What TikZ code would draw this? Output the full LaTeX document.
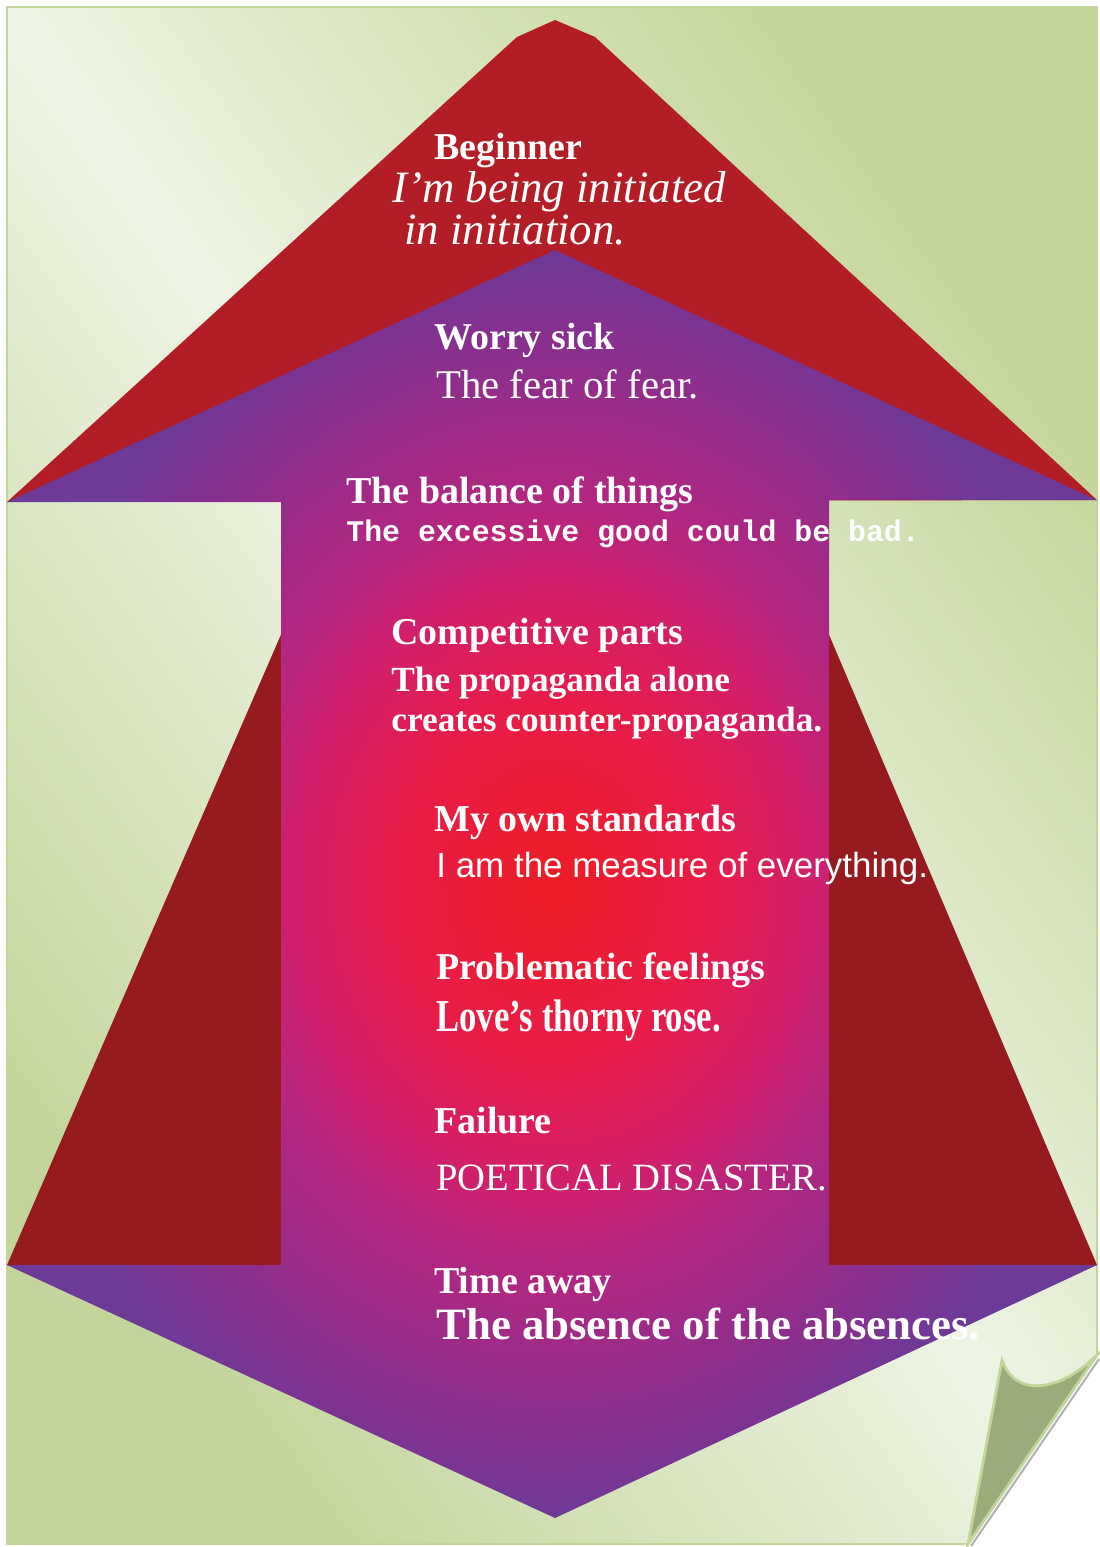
\documentclass[tikz,border=0pt]{standalone}
\usepackage{fontspec}
\setmainfont{Liberation Serif}
\newfontfamily\monofont{Liberation Mono}
\newfontfamily\arialfont{Liberation Sans}
\newfontfamily\narrowfont[FakeStretch=0.76]{Liberation Serif}
\usetikzlibrary{positioning}

\definecolor{pagelight}{HTML}{EEF4E4}
\definecolor{pagedark}{HTML}{C3D59A}
\definecolor{pageedge}{HTML}{C2D69A}
\definecolor{flapgreen}{HTML}{9BAB7A}
\definecolor{topred}{HTML}{B31D25}
\definecolor{sidered}{HTML}{971A1F}
\definecolor{glow0}{HTML}{ED1C24}
\definecolor{glow1}{HTML}{E91C48}
\definecolor{glow2}{HTML}{D01F6C}
\definecolor{glow3}{HTML}{B42680}
\definecolor{glow4}{HTML}{84308F}
\definecolor{glow5}{HTML}{6E3A98}

\pgfdeclareradialshading{arrowglow}{\pgfpoint{0bp}{0bp}}{%
  color(0bp)=(glow0); color(7bp)=(glow1); color(12bp)=(glow2);
  color(15bp)=(glow3); color(22bp)=(glow4); color(25bp)=(glow5);
  color(50bp)=(glow5)}

\begin{document}
\begin{tikzpicture}[x=0.02cm, y=-0.02cm,
    head/.style={anchor=base west, inner sep=0pt, text=white, font=\bfseries\fontsize{21.6}{26}\selectfont},
    quote/.style={anchor=base west, inner sep=0pt, text=white},
    paper/.style={draw=pageedge, line width=1pt}
]
    \useasboundingbox (0,0) rectangle (1099,1547);

    % Page with curled corner
    \shade [paper, top color=pagedark, bottom color=pagedark, middle color=pagelight, shading angle=-54.6]
        (7,7) -- (1097,7) -- (1097,1355) -- (968,1544) -- (7,1544) -- cycle;
    \draw [gray!60, line width=1.2pt] (1099,1359) -- (971,1546);
    \filldraw [fill=flapgreen, draw=pageedge, line width=1.6pt]
        (1002,1360) .. controls (1015,1398) and (1060,1392) .. (1097,1355) -- (968,1544) -- cycle;

    % Side wings and tip
    \fill [sidered] (7,1265) -- (283,630) -- (283,1265) -- cycle;
    \fill [sidered] (1097,1265) -- (827,630) -- (827,1265) -- cycle;
    \fill [topred] (7,502) -- (517,37) -- (555,20) -- (595,37) -- (1097,500) -- cycle;

    % Arrow body
    \shade [shading=arrowglow]
        (555,250) -- (1097,500) -- (829,500) -- (829,1265) -- (1097,1265) -- (555,1518)
        -- (7,1265) -- (281,1265) -- (281,502) -- (7,502) -- cycle;

    % Stages
    \node [head] (beginner) at (434,160) {Beginner};
    \node [quote, font=\itshape\fontsize{25.5}{30}\selectfont] (initiated) at (392,203) {I’m being initiated};
    \node [quote, font=\itshape\fontsize{25.5}{30}\selectfont] (initiation) at (404,245) {in initiation.};

    \node [head] (worry) at (434,349) {Worry sick};
    \node [quote, font=\fontsize{23.2}{28}\selectfont] (fear) at (436,398) {The fear of fear.};

    \node [head] (balance) at (346,503) {The balance of things};
    \node [quote, font=\monofont\bfseries\fontsize{17}{20}\selectfont] (excess) at (346,541) {The excessive good could be bad.};

    \node [head] (competitive) at (391,644) {Competitive parts};
    \node [quote, font=\bfseries\fontsize{20.1}{24}\selectfont] (propaganda) at (391,691) {The propaganda alone};
    \node [quote, font=\bfseries\fontsize{20.1}{24}\selectfont] (counter) at (391,731) {creates counter-propaganda.};

    \node [head] (standards) at (434,831) {My own standards};
    \node [quote, font=\arialfont\fontsize{19.9}{24}\selectfont] (measure) at (436,877) {I am the measure of everything.};

    \node [head] (feelings) at (436,979) {Problematic feelings};
    \node [quote, font=\narrowfont\bfseries\fontsize{26}{30}\selectfont] (rose) at (436,1031) {Love’s thorny rose.};

    \node [head] (failure) at (434,1133) {Failure};
    \node [quote, font=\fontsize{22}{26}\selectfont] (disaster) at (436,1190) {POETICAL DISASTER.};

    \node [head] (timeaway) at (434,1293) {Time away};
    \node [quote, font=\bfseries\fontsize{25.5}{30}\selectfont] (absence) at (436,1339) {The absence of the absences.};

\end{tikzpicture}
\end{document}
